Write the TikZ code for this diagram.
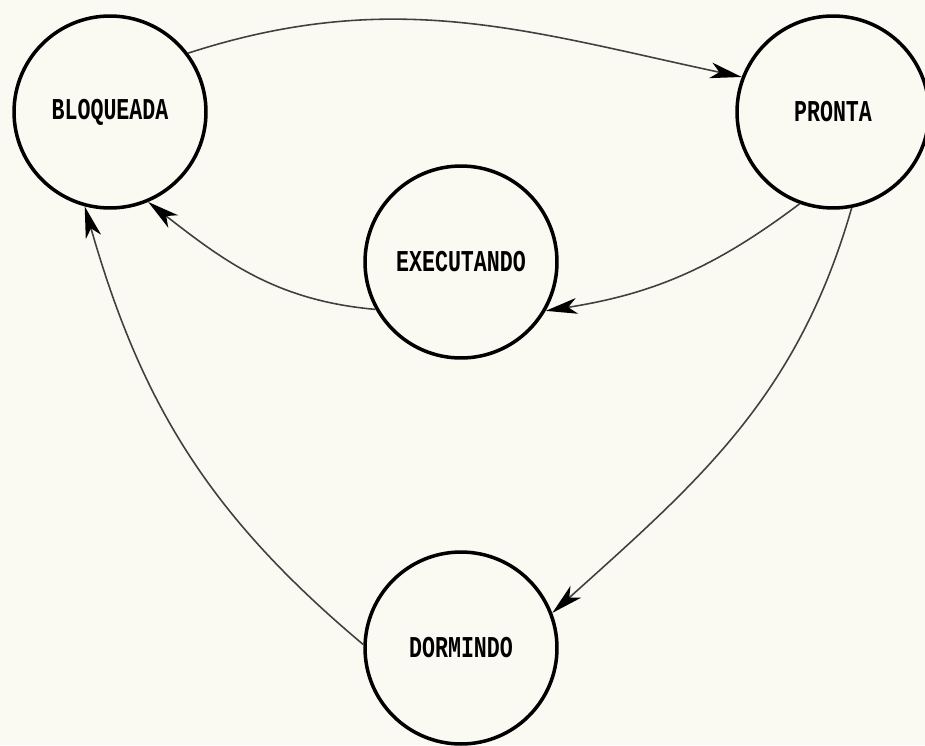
\documentclass[tikz,border=0pt]{standalone}
\usepackage{fontspec}
\setmonofont{Liberation Mono}
\usetikzlibrary{arrows.meta}
\definecolor{papel}{RGB}{251,250,242}
\newcommand{\rotulo}[1]{\scalebox{1}[1.4]{#1}}

\begin{document}
\begin{tikzpicture}[x=0.02cm, y=0.02cm,
  estado/.style={circle, draw, line width=2pt, minimum size=3.84cm, inner sep=0pt,
    font=\ttfamily\bfseries\fontsize{12.3}{14}\selectfont},
  trans/.style={draw=black!75, line width=0.9pt, -{Stealth[length=18pt, width=9pt, inset=5pt, black]}}]
% fundo
\fill[papel] (0,0) rectangle (925,745);
\useasboundingbox (0,0) rectangle (925,745);

% estados
\node[estado] (bloq) at (110,633) {\rotulo{BLOQUEADA}};
\node[estado] (pronta) at (833,633) {\rotulo{PRONTA}};
\node[estado] (exec) at (461,483) {\rotulo{EXECUTANDO}};
\node[estado] (dorm) at (461,97) {\rotulo{DORMINDO}};

% transicoes
\draw[trans] (bloq.37) to[out=18, in=168] (pronta.159);
\draw[trans] (pronta.250) to[out=217, in=9] (exec.330);
\draw[trans] (exec.209) to[out=175, in=322] (bloq.293);
\draw[trans] (pronta.281) to[out=254, in=42] (dorm.21);
\draw[trans] (dorm.178) to[out=140, in=286] (bloq.255);
\end{tikzpicture}
\end{document}
